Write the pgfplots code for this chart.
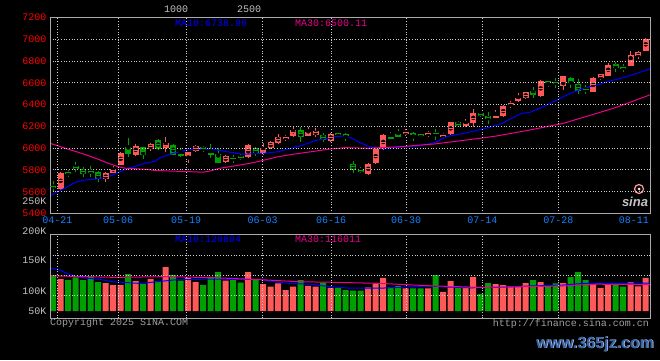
\documentclass[border=0pt]{standalone}
\usepackage{fontspec}
\setmainfont{Liberation Mono}
\newfontfamily\wm{Liberation Sans}
\usepackage{pgfplots}
\usepackage{pgfplotstable}
\pgfplotsset{compat=1.18}
\definecolor{cred}{RGB}{255,88,88}
\definecolor{cgreen}{RGB}{0,160,0}
\definecolor{gridc}{RGB}{205,205,205}
\definecolor{framec}{RGB}{170,170,170}
\definecolor{datec}{RGB}{20,130,255}
\definecolor{lbl}{RGB}{195,195,195}
\definecolor{cpy}{RGB}{160,160,160}
\definecolor{wmblue}{RGB}{50,100,160}

\pgfplotstableread{
k O H L C V
1 5623 5784 5616 5775 130
7 5715 5784 5693 5770 120
8 5775 5837 5770 5807 115
9 5846 5962 5843 5959 115
11 5938 6039 5931 6020 125
13 5990 6045 5977 6039 130
15 6000 6106 5968 6045 160
18 5931 5968 5861 5968 133
19 5977 6030 5968 6020 122.5
23 5876 5938 5867 5929 126
26 5922 6036 5907 6029 147.5
28 5953 6045 5938 6005 117.5
29 6005 6066 5990 6060 111
30 6045 6127 6036 6106 119
31 6082 6121 6069 6106 102.5
32 6112 6204 6106 6167 111
34 6112 6197 6112 6146 113
35 6121 6182 6100 6161 111
37 6069 6136 6060 6130 108
42 5763 5867 5754 5855 109
43 5861 5999 5855 5990 117.5
44 5990 6130 5984 6121 133
47 6130 6173 6115 6152 106.7
50 6121 6161 6100 6142 106.7
52 6106 6136 6094 6121 98
53 6127 6243 6121 6237 125
55 6204 6268 6197 6234 109
56 6234 6360 6197 6320 135
59 6280 6350 6280 6298 117.5
60 6295 6396 6286 6387 115
61 6396 6433 6366 6417 111
62 6433 6503 6427 6463 112
63 6458 6518 6451 6518 120
65 6482 6626 6473 6617 122.5
68 6571 6662 6534 6662 120
72 6518 6650 6512 6647 120
73 6647 6678 6626 6678 108
74 6662 6779 6662 6763 115
77 6757 6895 6757 6855 122.5
78 6846 6895 6818 6880 111.7
79 6894 7014 6894 7002 133
}\redc

\pgfplotstableread{
k O H L C V
0 5650 5699 5595 5645 140
2 5778 5800 5733 5773 127.5
3 5837 5871 5784 5807 134
4 5807 5830 5739 5763 127.5
5 5786 5837 5733 5782 136
6 5784 5794 5693 5715 122.5
10 6014 6091 5922 5947 142.5
12 6008 6014 5898 5938 118
14 6075 6084 5984 5990 125
16 6032 6035 5935 5940 140
17 5941 5999 5922 5938 126
20 6008 6020 5968 5993 115
21 5959 6036 5907 5938 136
22 5947 5999 5867 5867 147.5
24 5910 5938 5861 5905 131.7
25 5931 5944 5892 5907 121
27 6005 6014 5928 5953 130
33 6167 6197 6060 6106 127.5
36 6121 6142 6060 6075 121
38 6142 6152 6112 6121 108
39 6124 6142 6069 6121 102.5
40 5855 5883 5775 5800 101
41 5807 5825 5770 5782 101
45 6106 6152 6084 6084 109
46 6127 6176 6100 6106 112.5
48 6142 6148 6069 6121 106.7
49 6130 6136 6112 6115 106.7
51 6139 6180 6075 6136 140
54 6237 6250 6197 6206 109
57 6326 6335 6289 6295 92.5
58 6295 6329 6222 6268 120
64 6525 6564 6464 6488 127.5
66 6617 6617 6564 6601 112.5
67 6603 6641 6555 6600 119
69 6647 6656 6549 6604 135
70 6589 6632 6494 6527 147.5
71 6543 6580 6497 6540 127.5
75 6772 6794 6702 6738 115
76 6741 6769 6702 6737 111
}\greenc

\pgfplotstableread{
x y
-0.43 5562
0.55 5601
1.57 5632
2.91 5687
4.24 5708
5.57 5714
6.91 5733
8.01 5754
8.91 5784
10.01 5816
11.13 5837
12.24 5861
13.57 5880
14.24 5913
15.57 5944
16.91 5968
17.8 5984
19.57 5990
21.8 5984
23.57 5963
25.35 5944
26.24 5947
28.24 5953
30.01 5968
31.8 5999
33.57 6036
34.91 6069
36.68 6091
37.57 6106
38.91 6112
39.8 6091
40.68 6060
41.57 6030
42.47 6008
44.24 5999
45.8 6005
46.91 6014
48.68 6020
50.01 6036
50.91 6054
52.47 6106
54.01 6127
56.24 6158
58.47 6197
59.8 6228
61.13 6274
62.47 6320
63.57 6329
65.35 6381
67.13 6442
68.91 6504
70.68 6549
72.47 6580
74.24 6617
76.01 6647
77.8 6687
79.57 6727
}\maten

\pgfplotstableread{
x y
-0.43 6045
0.68 6020
2.01 5990
3.35 5962
4.68 5931
6.01 5898
7.35 5861
8.68 5830
9.57 5816
12.24 5806
13.57 5796
15.13 5791
18.24 5784
20.01 5779
20.91 5791
22.24 5816
23.57 5830
24.91 5846
26.24 5861
27.8 5885
30.01 5922
32.24 5947
34.47 5968
36.68 5990
38.91 6005
42.01 5999
46.47 6014
49.13 6030
50.91 6039
56.91 6091
59.13 6112
63.57 6167
68.01 6228
72.47 6320
74.68 6366
76.91 6421
79.57 6490
}\mathirty

\pgfplotstableread{
x y
-0.43 156.7
0.68 154
1.8 144
3.13 136
4.47 132
6.24 129
8.01 123
9.8 121
11.57 119
13.8 123
16.01 127.5
18.68 129
21.35 130
24.01 129
27.57 129
29.35 123
31.57 119
34.24 117
36.91 111
39.57 107
43.57 107
45.8 109
50.24 112.5
52.47 110
55.57 108
59.13 109
63.57 112.5
68.01 115
70.68 119
74.68 119
79.57 120
}\vmaten

\pgfplotstableread{
x y
-0.43 138
4.01 136
8.47 134
15.13 136
21.8 133
28.47 127.5
32.91 123
36.91 122
43.57 119
50.24 113
56.91 109
63.57 111
68.01 112.5
72.47 117
79.57 116
}\vmathirty

\pgfplotsset{
  chartbase/.style={
    scale only axis, anchor=south west,
    width=600pt,
    xmin=-0.43, xmax=79.57,
    axis line style={framec, line width=1pt},
    major tick length=0pt, tick style={draw=none},
    grid=major,
    major grid style={gridc, line width=0.9pt, dash pattern=on 1pt off 1.7pt},
    tick label style={font=\fontsize{10}{12}\selectfont},
  },
}

\begin{document}
\begin{tikzpicture}
\fill[black] (0pt,0pt) rectangle (660pt,360pt);

% ---------- price panel ----------
\begin{axis}[chartbase,
  at={(50pt,146.5pt)}, height=196pt,
  ymin=5400, ymax=7200,
  axis on top,
  ytick={5400,5600,5800,6000,6200,6400,6600,6800,7000,7200},
  yticklabels={5400,5600,5800,6000,6200,6400,6600,6800,7000,7200},
  yticklabel style={text=red, inner sep=1.5pt, xshift=-1.8pt},
  xtick={0.57,8.64,17.71,27.93,37.04,47.04,57.21,67.35},
  xticklabels={04-21,05-06,05-19,06-03,06-16,06-30,07-14,07-28},
  extra x ticks={77.41},
  extra x tick labels={08-11},
  extra x tick style={grid=none},
  xticklabel style={text=datec},
]
% wicks
\addplot[only marks, mark=none, error bars/.cd, y dir=both, y explicit, error mark=none,
  error bar style={draw=cred, line width=1pt, solid}]
  table[x=k, y expr={(\thisrow{H}+\thisrow{L})/2}, y error expr={(\thisrow{H}-\thisrow{L})/2}] {\redc};
\addplot[only marks, mark=none, error bars/.cd, y dir=both, y explicit, error mark=none,
  error bar style={draw=cgreen, line width=1pt, solid}]
  table[x=k, y expr={(\thisrow{H}+\thisrow{L})/2}, y error expr={(\thisrow{H}-\thisrow{L})/2}] {\greenc};
% bodies
\addplot[only marks, mark=-, mark size=3pt, mark options={draw=cred, line width=1pt, solid},
  error bars/.cd, y dir=both, y explicit, error mark=none,
  error bar style={draw=cred, line width=6pt, solid}]
  table[x=k, y expr={(\thisrow{O}+\thisrow{C})/2}, y error expr={abs(\thisrow{C}-\thisrow{O})/2}] {\redc};
\addplot[only marks, mark=-, mark size=3pt, mark options={draw=cgreen, line width=1pt, solid},
  error bars/.cd, y dir=both, y explicit, error mark=none,
  error bar style={draw=cgreen, line width=6pt, solid}]
  table[x=k, y expr={(\thisrow{O}+\thisrow{C})/2}, y error expr={abs(\thisrow{C}-\thisrow{O})/2}] {\greenc};
% moving averages
\addplot[blue, line width=1pt, mark=none] table[x=x,y=y] {\maten};
\addplot[magenta, line width=1pt, mark=none] table[x=x,y=y] {\mathirty};
\end{axis}

% ---------- volume bars (baseline 50K) ----------
\begin{axis}[scale only axis, anchor=south west, width=600pt,
  at={(50pt,49pt)}, height=76.7pt,
  xmin=-0.43, xmax=79.57, ymin=50, ymax=241.75,
  hide axis]
\addplot[ybar, bar width=6pt, bar shift=0pt, fill=cred, draw=none] table[x=k, y=V] {\redc};
\addplot[ybar, bar width=6pt, bar shift=0pt, fill=cgreen, draw=none] table[x=k, y=V] {\greenc};
\addplot[blue, line width=1pt, mark=none] table[x=x,y=y] {\vmaten};
\addplot[magenta, line width=1pt, mark=none] table[x=x,y=y] {\vmathirty};
\end{axis}

% ---------- volume frame ----------
\begin{axis}[chartbase,
  at={(50pt,41.7pt)}, height=84pt,
  ymin=31.75, ymax=241.75,
  ytick={88.25,138.25,188.25}, yticklabels={},
  xtick={0.57,8.64,17.71,27.93,37.04,47.04,57.21,67.35}, xticklabels={},
]
\end{axis}

% ---------- texts ----------
\begin{scope}[every node/.style={inner sep=0pt, font=\fontsize{10}{12}\selectfont}]
\node[text=lbl, anchor=center] at (176pt,350.3pt) {1000};
\node[text=lbl, anchor=center] at (249pt,350.3pt) {2500};
\node[text=blue, anchor=west] at (175pt,336.3pt) {MA10:6738.96};
\node[text=magenta, anchor=west] at (295pt,336.3pt) {MA30:6500.11};
\node[text=blue, anchor=west] at (175pt,121.3pt) {MA10:120804};
\node[text=magenta, anchor=west] at (295pt,121.3pt) {MA30:116011};
\node[text=lbl, anchor=east] at (46.5pt,159pt) {250K};
\node[text=lbl, anchor=east] at (46.5pt,129.3pt) {200K};
\node[text=lbl, anchor=east] at (46.5pt,100pt) {150K};
\node[text=lbl, anchor=east] at (46.5pt,69.3pt) {100K};
\node[text=lbl, anchor=east] at (46.5pt,49pt) {50K};
\node[text=cpy, anchor=west] at (50pt,36.7pt) {Copyright 2025 SINA.COM};
\node[text=cpy, anchor=east] at (649pt,36pt) {http://finance.sina.com.cn};
\end{scope}

% sina watermark
\draw[pink!80!red, line width=1.2pt] (639pt,171pt) circle (4.5pt);
\fill[pink!60!white] (639pt,171pt) circle (1.5pt);
\node[inner sep=0pt, text=lbl, font=\wm\bfseries\itshape\fontsize{13}{14}\selectfont] at (635pt,158pt) {sina};

% 365jz watermark
\node[inner sep=0pt, text=white!80!blue, font=\wm\bfseries\fontsize{16}{18}\selectfont] at (595.8pt,15.2pt) {www.365jz.com};
\node[inner sep=0pt, text=wmblue, font=\wm\bfseries\fontsize{16}{18}\selectfont] at (595pt,16pt) {www.365jz.com};

\pgfresetboundingbox
\path[use as bounding box] (0pt,0pt) rectangle (660pt,360pt);
\end{tikzpicture}
\end{document}
